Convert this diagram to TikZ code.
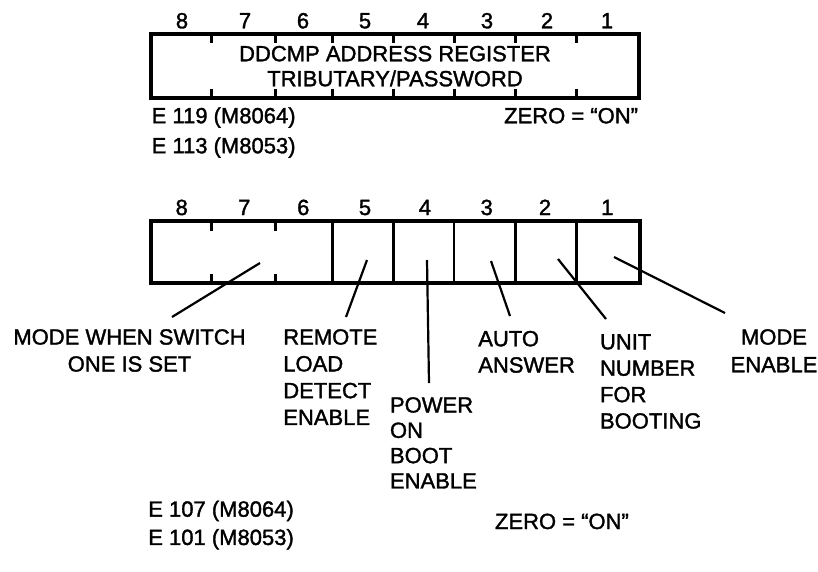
\documentclass[tikz,border=0pt]{standalone}
\usepackage{fontspec}
\setmainfont[FakeBold=1.5,AutoFakeBold=1.5]{Liberation Sans}
\begin{document}
\begin{tikzpicture}[x=1pt,y=-1pt,
  lbl/.style={font=\fontsize{22}{#1}\selectfont\bfseries, inner sep=0pt, outer sep=0pt},
  lbl/.default=26.5,
  border/.style={line width=4pt, line join=miter},
  divider/.style={line width=2.8pt},
  tickmark/.style={line width=3pt},
  leader/.style={line width=2.2pt},
]
\useasboundingbox[fill=white] (0,0) rectangle (818,571);

% ---------- top register ----------
\draw[border] (151,34) rectangle (639,97.5);
\foreach \x in {211.7,275,332.3,393.3,454,515.7,576.7}{
  \draw[tickmark] (\x,34) -- (\x,43);
  \draw[tickmark] (\x,88.5) -- (\x,97.5);
}
\foreach \n/\x in {8/182,7/245,6/303,5/365,4/423,3/487,2/547,1/607}{
  \node[lbl, anchor=base] (tn\n) at (\x,28.3) {\n};
}
\node[lbl=25, align=center, anchor=north] (topreg) at (395,45.9)
  {DDCMP ADDRESS REGISTER\\TRIBUTARY/PASSWORD};
\node[lbl=30, align=left, anchor=north west] (topchip) at (151.7,107.3)
  {E 119 (M8064)\\E 113 (M8053)};
\node[lbl, anchor=base east] (topzero) at (638,123.3) {ZERO = “ON”};

% ---------- bottom register ----------
\draw[border] (150.5,221) rectangle (639.5,283);
\foreach \x in {332.3,393.3,454,515.7,576.7}{
  \draw[divider] (\x,221) -- (\x,283);
}
\foreach \x in {211.7,275}{
  \draw[tickmark] (\x,221) -- (\x,231);
  \draw[tickmark] (\x,274) -- (\x,283);
}
\foreach \n/\x in {8/181.7,7/244.3,6/303.3,5/365,4/425,3/486.7,2/545,1/607.3}{
  \node[lbl, anchor=base] (bn\n) at (\x,215) {\n};
}

% labels
\node[lbl=27, align=center, anchor=north] (modeswitch) at (129.5,329.2)
  {MODE WHEN SWITCH\\ONE IS SET};
\node[lbl=26.8, align=left, anchor=north west] (remote) at (283.3,329.2)
  {REMOTE\\LOAD\\DETECT\\ENABLE};
\node[lbl=25.3, align=left, anchor=north west] (power) at (390,397.2)
  {POWER\\ON\\BOOT\\ENABLE};
\node[lbl=26.3, align=left, anchor=north west] (auto) at (478.3,330.9)
  {AUTO\\ANSWER};
\node[lbl=26.4, align=left, anchor=north west] (unit) at (600,334.2)
  {UNIT\\NUMBER\\FOR\\BOOTING};
\node[lbl=27.7, align=center, anchor=north] (modeen) at (774,329.2)
  {MODE\\ENABLE};
\node[lbl=28.3, align=left, anchor=north west] (botchip) at (148.3,500.7)
  {E 107 (M8064)\\E 101 (M8053)};
\node[lbl, anchor=base west] (botzero) at (495,529) {ZERO = “ON”};

% leader lines
\coordinate (s78) at (260,263);   \coordinate (e78) at (172,317);
\coordinate (s5)  at (367,260);   \coordinate (e5)  at (346,317);
\coordinate (s4)  at (427,260);   \coordinate (e4)  at (429,383);
\coordinate (s3)  at (491,261);   \coordinate (e3)  at (510,316);
\coordinate (s2)  at (558,259);   \coordinate (e2)  at (606,319);
\coordinate (s1)  at (614,257);   \coordinate (e1)  at (725,313);
\foreach \k in {78,5,4,3,2,1}{
  \draw[leader] (s\k) -- (e\k);
}
\end{tikzpicture}
\end{document}
